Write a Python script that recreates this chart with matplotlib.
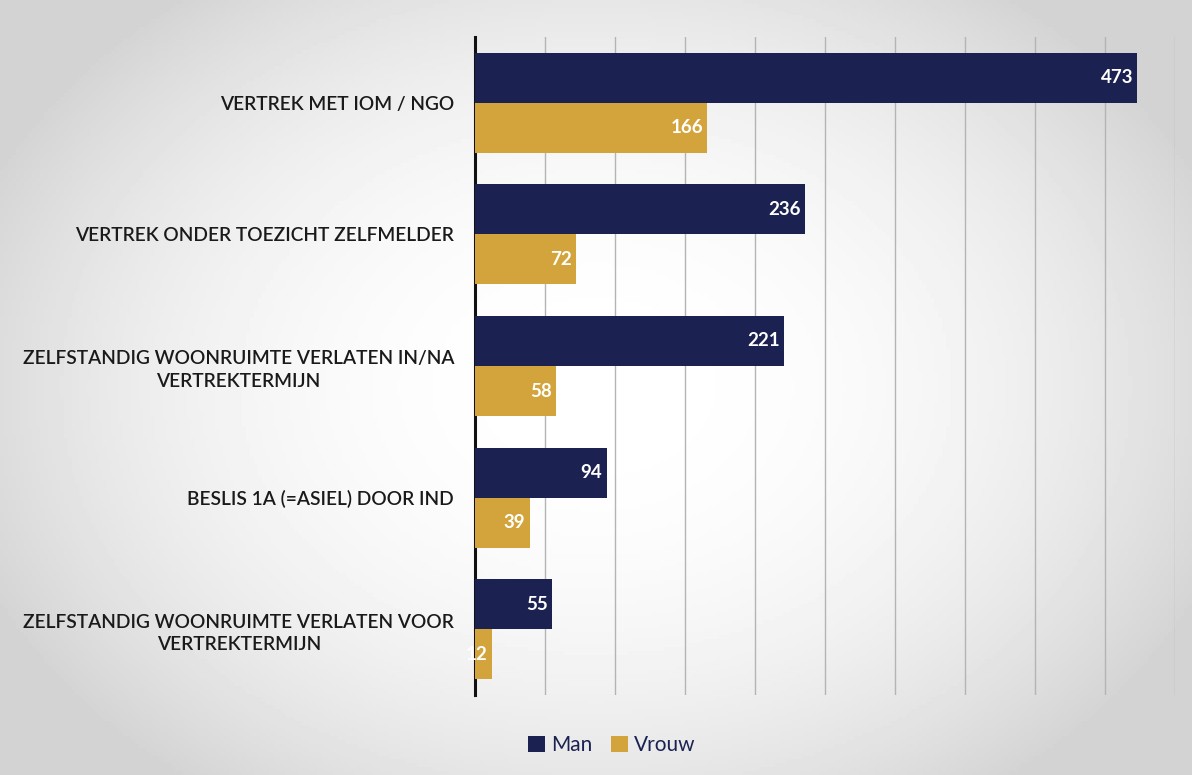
import matplotlib.pyplot as plt
import numpy as np

# data
categories = ['VERTREK MET IOM / NGO',
              'VERTREK ONDER TOEZICHT ZELFMELDER',
              'ZELFSTANDIG WOONRUIMTE VERLATEN IN/NA\nVERTREKTERMIJN',
              'BESLIS 1A (=ASIEL) DOOR IND',
              'ZELFSTANDIG WOONRUIMTE VERLATEN VOOR\nVERTREKTERMIJN']
man = [473, 236, 221, 94, 55]
vrouw = [166, 72, 58, 39, 12]

NAVY = '#1b2251'
GOLD = '#d4a43c'
plt.rcParams['font.family'] = ['Lato', 'DejaVu Sans']

fig = plt.figure(figsize=(11.92, 7.75), dpi=100)

# faded photo-like backdrop, lighter in the middle
bg = fig.add_axes([0, 0, 1, 1], zorder=-1)
yy, xx = np.mgrid[-1:1:200j, -1:1:300j]
r = np.clip(np.sqrt(xx**2 * 0.8 + yy**2 * 0.6), 0, 1)
bg.imshow(1 - 0.17 * r**2.2, cmap='gray', vmin=0, vmax=1, aspect='auto',
          extent=[0, 1, 0, 1])
bg.axis('off')

ax = fig.add_axes([475 / 1192, 1 - 695 / 775, (1175 - 475) / 1192, (695 - 37) / 775])
ax.patch.set_alpha(0)

y = np.arange(len(categories))
h = 0.38
ax.barh(y - h / 2, man, height=h, color=NAVY, label='Man', zorder=3)
ax.barh(y + h / 2, vrouw, height=h, color=GOLD, label='Vrouw', zorder=3)

for i in range(len(categories)):
    ax.text(man[i] - 3, y[i] - h / 2, str(man[i]), color='white', fontsize=13.5,
            fontweight='bold', ha='right', va='center', zorder=4)
    ax.text(vrouw[i] - 3, y[i] + h / 2, str(vrouw[i]), color='white', fontsize=13.5,
            fontweight='bold', ha='right', va='center', zorder=4)

ax.set_xlim(0, 500)
ax.set_ylim(len(categories) - 0.5, -0.5)
ax.set_xticks(np.arange(50, 501, 50))
ax.xaxis.grid(True, color='#b4b4b4', linewidth=1.0, zorder=0)
ax.tick_params(axis='x', length=0, labelbottom=False)
ax.tick_params(axis='y', length=0, pad=15)
ax.set_yticks(y)
ax.set_yticklabels(categories, fontsize=13.75, color='#1a1a1a', ha='right',
                   fontweight='semibold', linespacing=1.4)
for lbl in ax.get_yticklabels():
    lbl.set_multialignment('center')
for s in ['top', 'right', 'bottom']:
    ax.spines[s].set_visible(False)
ax.spines['left'].set_linewidth(2.2)
ax.spines['left'].set_color('#111111')

leg = fig.legend(loc='center', bbox_to_anchor=(612 / 1192, 1 - 745 / 775), ncol=2,
                 frameon=False, fontsize=15, handlelength=0.8, handleheight=0.8,
                 handletextpad=0.3, columnspacing=0.9, labelcolor=NAVY)

fig.savefig('out.png', dpi=100)
